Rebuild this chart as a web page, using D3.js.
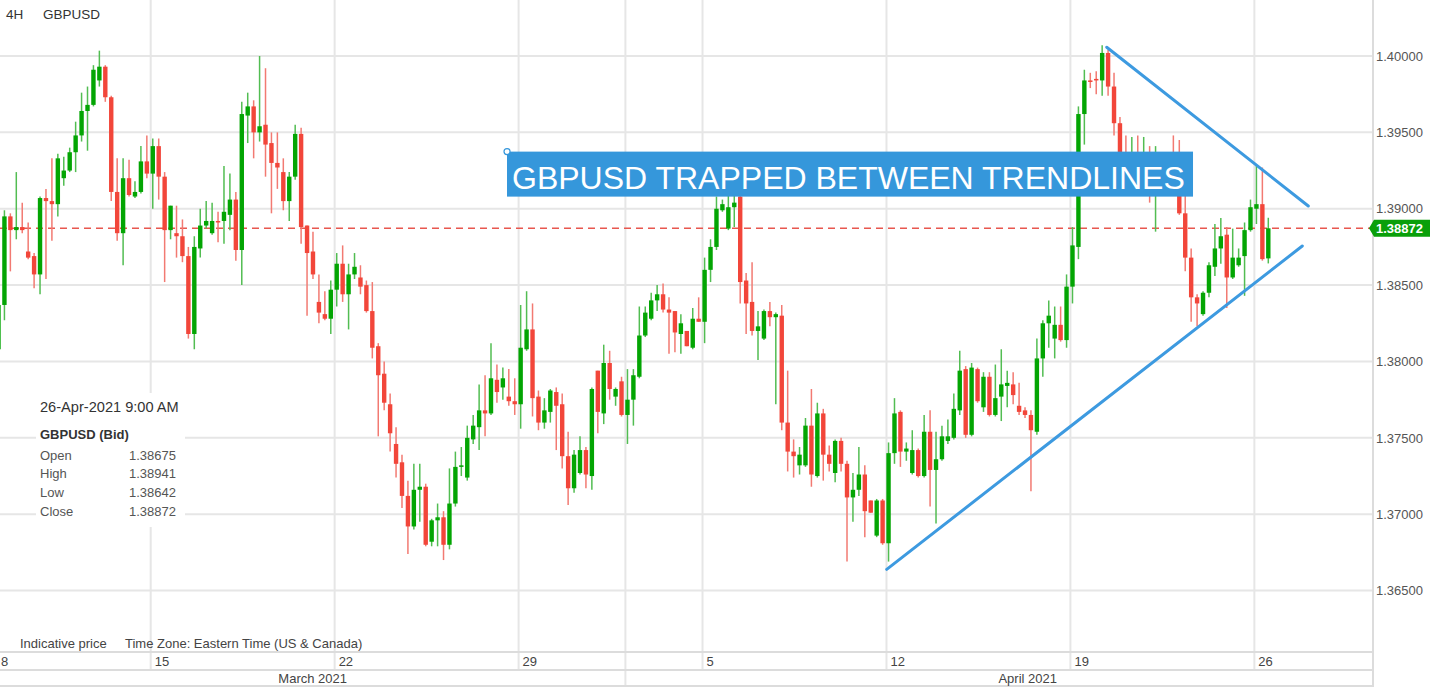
<!DOCTYPE html>
<html><head><meta charset="utf-8">
<script src="https://cdn.jsdelivr.net/npm/d3@7"></script>
<style>
html,body{margin:0;padding:0;background:#fff;overflow:hidden}
svg{display:block;font-family:"Liberation Sans",Arial,Helvetica,sans-serif}
</style></head><body>
<svg id="c" width="1430" height="687"></svg>
<script>
// ---- DATA (4H GBPUSD candles) ----
const opens = [
 1.3808,1.3837,1.3895,1.3886,1.3888,1.3872,1.3869,1.3857,1.3907,1.3905,1.3903,1.3920,1.3925,1.3937,1.3948,1.3964,1.3968,1.3984,1.3993,1.3973,1.3911,1.3884,1.3920,1.3908,1.3911,1.3931,
 1.3923,1.3941,1.3921,1.3886,1.3884,1.3882,1.3869,1.3818,1.3874,1.3889,1.3884,1.3892,1.3892,1.3896,1.3906,1.3873,1.3961,1.3967,1.3950,1.3955,1.3943,1.3930,1.3924,1.3905,1.3921,1.3949,1.3889,1.3872,1.3839,1.3831,1.3828,
 1.3847,1.3864,1.3844,1.3857,1.3855,1.3850,1.3833,1.3810,1.3792,1.3772,1.3746,1.3734,1.3712,1.3692,1.3716,1.3718,1.3682,1.3696,1.3698,1.3680,1.3707,1.3731,1.3724,1.3749,1.3757,1.3768,1.3766,1.3788,1.3783,1.3777,1.3774,
 1.3772,1.3808,1.3821,1.3777,1.3760,1.3767,1.3780,1.3772,1.3738,1.3717,1.3727,1.3742,1.3725,1.3794,1.3766,1.3799,1.3777,1.3787,1.3765,1.3775,1.3790,1.3817,1.3828,1.3840,1.3844,1.3834,1.3833,1.3818,1.3820,1.3809,1.3828,
 1.3826,1.3860,1.3875,1.3899,1.3887,1.3901,1.3908,1.3853,1.3839,1.3820,1.3815,1.3833,1.3829,1.3830,1.3760,1.3741,1.3732,1.3732,1.3758,1.3725,1.3766,1.3739,1.3727,1.3748,1.3733,1.3711,1.3716,1.3726,1.3709,1.3686,1.3709,
 1.3681,1.3740,1.3767,1.3741,1.3727,1.3742,1.3725,1.3754,1.3729,1.3736,1.3748,1.3750,1.3768,1.3795,1.3752,1.3795,1.3770,1.3790,1.3765,1.3777,1.3784,1.3785,1.3771,1.3768,1.3765,1.3754,1.3802,1.3825,1.3815,1.3824,1.3814,
 1.3849,1.3875,1.3962,1.3984,1.3985,1.3984,1.4002,1.3980,1.3956,1.3933,1.3922,1.3932,1.3924,1.3930,1.3916,1.3925,1.3920,1.3924,1.3919,1.3897,1.3868,1.3842,1.3831,1.3845,1.3862,1.3874,1.3883,1.3855,1.3863,1.3869,1.3886,
 1.3900,1.3903,1.38675
];
const highs = [
 1.3840,1.3899,1.3897,1.3924,1.3904,1.3891,1.3871,1.3908,1.3913,1.3933,1.3936,1.3934,1.3940,1.3957,1.3976,1.3980,1.3994,1.40035,1.3994,1.3974,1.3933,1.3933,1.3932,1.3918,1.3941,1.3948,
 1.3946,1.3946,1.3924,1.3902,1.3902,1.3893,1.3875,1.3882,1.3900,1.3905,1.3904,1.3898,1.3928,1.3923,1.3911,1.3970,1.3976,1.3971,1.4000,1.3992,1.3950,1.3950,1.3933,1.3924,1.3955,1.3953,1.3889,1.3885,1.3857,1.3846,1.3853,
 1.3871,1.3876,1.3864,1.3871,1.3863,1.3853,1.3852,1.3812,1.3800,1.3779,1.3757,1.3739,1.3722,1.3733,1.3733,1.3720,1.3697,1.3707,1.3702,1.3730,1.3741,1.3744,1.3758,1.3765,1.3785,1.3791,1.3812,1.3798,1.3796,1.3795,1.3789,
 1.3837,1.3846,1.3838,1.3781,1.3776,1.3782,1.3783,1.3779,1.3754,1.3742,1.3751,1.3744,1.3783,1.3794,1.3811,1.3807,1.3783,1.3790,1.3795,1.3795,1.3836,1.3836,1.3845,1.3850,1.3851,1.3842,1.3833,1.3831,1.3820,1.3835,1.3842,
 1.3868,1.3880,1.3908,1.3906,1.3910,1.3912,1.3912,1.3858,1.3865,1.3833,1.3834,1.3839,1.3832,1.3837,1.3794,1.3749,1.3744,1.3763,1.3782,1.3773,1.3769,1.3745,1.3749,1.3750,1.3735,1.3727,1.3744,1.3732,1.3709,1.3710,1.3710,
 1.3747,1.3776,1.3768,1.3747,1.3755,1.3743,1.3765,1.3768,1.3754,1.3758,1.3762,1.3779,1.3807,1.3797,1.3799,1.3796,1.3793,1.3793,1.3798,1.3808,1.3794,1.3793,1.3786,1.3770,1.3768,1.3815,1.3827,1.3840,1.3836,1.3836,1.3857,
 1.3888,1.3967,1.3991,1.3989,1.3990,1.4007,1.4004,1.3989,1.3960,1.3948,1.3947,1.3948,1.3947,1.3941,1.3941,1.3932,1.3929,1.3948,1.3945,1.3912,1.3874,1.3844,1.3846,1.3865,1.3890,1.3894,1.3888,1.3887,1.3874,1.3891,1.3906,
 1.3928,1.3927,1.38941
];
const lows = [
 1.3804,1.3827,1.3859,1.3880,1.3884,1.3867,1.3848,1.3844,1.3854,1.3879,1.3895,1.3915,1.3924,1.3924,1.3944,1.3938,1.3967,1.3980,1.3970,1.3905,1.3879,1.3863,1.3908,1.3907,1.3910,1.3920,
 1.3900,1.3906,1.3852,1.3880,1.3868,1.3865,1.3815,1.3808,1.3868,1.3887,1.3883,1.3878,1.3877,1.3886,1.3866,1.3850,1.3943,1.3933,1.3944,1.3921,1.3897,1.3913,1.3899,1.3892,1.3919,1.3877,1.3830,1.3854,1.3825,1.3827,1.3818,
 1.3836,1.3839,1.3821,1.3854,1.3844,1.3832,1.3802,1.3751,1.3768,1.3741,1.3724,1.3704,1.3674,1.3690,1.3695,1.3679,1.3679,1.3679,1.3670,1.3677,1.3705,1.3725,1.3722,1.3746,1.3742,1.3751,1.3765,1.3773,1.3775,1.3771,1.3765,
 1.3756,1.3807,1.3764,1.3755,1.3756,1.3760,1.3742,1.3730,1.3706,1.3714,1.3726,1.3717,1.3716,1.3753,1.3759,1.3775,1.3771,1.3764,1.3746,1.3758,1.3789,1.3816,1.3827,1.3833,1.3832,1.3805,1.3806,1.3805,1.3810,1.3808,1.3826,
 1.3812,1.3852,1.3873,1.3898,1.3886,1.3888,1.3838,1.3818,1.3817,1.3801,1.3814,1.3823,1.3772,1.3755,1.3728,1.3724,1.3726,1.3731,1.3718,1.3724,1.3722,1.3728,1.3721,1.3728,1.3669,1.3695,1.3712,1.3685,1.3701,1.3685,1.3680,
 1.3669,1.3733,1.3731,1.3735,1.3726,1.3724,1.3724,1.3705,1.3694,1.3735,1.3746,1.3749,1.3765,1.3750,1.3751,1.3773,1.3767,1.3764,1.3764,1.3761,1.3770,1.3772,1.3765,1.3763,1.3715,1.3752,1.3790,1.3809,1.3802,1.3813,1.3809,
 1.3838,1.3867,1.3942,1.3979,1.3975,1.3974,1.3974,1.3948,1.3929,1.3922,1.3919,1.3920,1.3920,1.3904,1.3885,1.3916,1.3914,1.3911,1.3896,1.3859,1.3826,1.3823,1.3830,1.3842,1.3856,1.3864,1.3835,1.3854,1.3862,1.3843,1.3885,
 1.3890,1.3866,1.38642
];
const closes = [
 1.3837,1.3895,1.3886,1.3888,1.3886,1.3868,1.3857,1.3907,1.3905,1.3903,1.3933,1.3925,1.3937,1.3948,1.3964,1.3968,1.3991,1.3993,1.3973,1.3911,1.3884,1.3920,1.3909,1.3911,1.3931,1.3923,
 1.3941,1.3921,1.3886,1.3902,1.3882,1.3869,1.3818,1.3875,1.3889,1.3892,1.3892,1.3891,1.3898,1.3906,1.3873,1.3962,1.3967,1.3950,1.3954,1.3942,1.3930,1.3927,1.3905,1.3921,1.3949,1.3888,1.3871,1.3857,1.3832,1.3828,1.3847,
 1.3864,1.3844,1.3857,1.3862,1.3849,1.3833,1.3809,1.3791,1.3773,1.3753,1.3733,1.3712,1.3692,1.3716,1.3718,1.3680,1.3696,1.3698,1.3680,1.3707,1.3731,1.3732,1.3750,1.3758,1.3768,1.3766,1.3789,1.3780,1.3789,1.3774,1.3772,
 1.3809,1.3821,1.3776,1.3760,1.3768,1.3781,1.3771,1.3738,1.3717,1.3739,1.3742,1.3726,1.3782,1.3767,1.3799,1.3782,1.3782,1.3765,1.3775,1.3791,1.3817,1.3832,1.3840,1.3844,1.3834,1.3832,1.3819,1.3825,1.3810,1.3828,1.3826,
 1.3860,1.3875,1.3900,1.3903,1.3901,1.3904,1.3852,1.3838,1.3820,1.3823,1.3833,1.3829,1.3831,1.3760,1.3741,1.3738,1.3739,1.3758,1.3726,1.3766,1.3739,1.3733,1.3748,1.3733,1.3711,1.3716,1.3726,1.3702,1.3701,1.3709,1.3681,
 1.3740,1.3766,1.3741,1.3743,1.3742,1.3725,1.3754,1.3729,1.3736,1.3751,1.3751,1.3769,1.3794,1.3752,1.3796,1.3774,1.3790,1.3765,1.3776,1.3785,1.3786,1.3778,1.3767,1.3765,1.3755,1.3802,1.3825,1.3830,1.3824,1.3814,1.3849,
 1.3876,1.3962,1.3984,1.3983,1.3984,1.4002,1.3980,1.3956,1.3932,1.3925,1.3932,1.3924,1.3930,1.3916,1.3925,1.3920,1.3924,1.3919,1.3897,1.3868,1.3842,1.3838,1.3845,1.3863,1.3874,1.3882,1.3855,1.3868,1.3868,1.3886,1.3901,
 1.3903,1.3867,1.38872
];
const weekLabels   = ["8","15","22","29","5","12","19","26"];
const weekStartIdx = [-5, 26, 57, 88, 119, 150, 181, 212];
const monthLabels  = ["March 2021","April 2021"];
const monthBoundaryIdx = 106;          // first candle of 1-Apr
const priceTicks = [1.365,1.370,1.375,1.380,1.385,1.390,1.395,1.400];
const lastPrice = 1.38872;
const timeframe = "4H", symbol = "GBPUSD";
const infoTime = "26-Apr-2021 9:00 AM";
const upperTrend = [{i:186.77,p:1.40057},{i:220.74,p:1.39018}];
const lowerTrend = [{i:149.69,p:1.36639},{i:219.73,p:1.38756}];
const annotation = {i:85.7, p:1.39374, text:"GBPUSD TRAPPED BETWEEN TRENDLINES"};

// ---- LAYOUT ----
const W = 1430, H = 687, plotR = 1372, plotB = 652;
const n = Math.min(opens.length, highs.length, lows.length, closes.length);
const candles = d3.range(n).map(i => ({i, o:opens[i], h:highs[i], l:lows[i], c:closes[i]}));

const x = d3.scaleLinear().domain([0, 214]).range([-1.5, 1268.3]);
const y = d3.scaleLinear().domain([1.365, 1.400]).range([590.6, 56]);

const svg = d3.select("#c");
const GRID = "#e6e6e6";

// horizontal grid
svg.append("g").selectAll("line").data(priceTicks).join("line")
  .attr("x1",0).attr("x2",plotR).attr("y1",d=>y(d)).attr("y2",d=>y(d))
  .attr("stroke",GRID).attr("stroke-width",2);

// vertical week grid
const gx = i => x(i - 0.35);
svg.append("g").selectAll("line").data(weekStartIdx.filter(d=>gx(d)>0)).join("line")
  .attr("x1",d=>gx(d)).attr("x2",d=>gx(d)).attr("y1",0).attr("y2",670)
  .attr("stroke",GRID).attr("stroke-width",2);
// month boundary
const mb = gx(monthBoundaryIdx);
svg.append("line").attr("x1",mb).attr("x2",mb).attr("y1",0).attr("y2",H)
  .attr("stroke",GRID).attr("stroke-width",2);

// bottom rows
[652,670,686].forEach(yy=>svg.append("line").attr("x1",0).attr("x2",plotR).attr("y1",yy).attr("y2",yy)
  .attr("stroke","#dcdcdc").attr("stroke-width",2));
svg.append("line").attr("x1",plotR+1).attr("x2",plotR+1).attr("y1",0).attr("y2",H)
  .attr("stroke","#dcdcdc").attr("stroke-width",2);

// last price dashed line
svg.append("line").attr("x1",0).attr("x2",plotR).attr("y1",y(lastPrice)).attr("y2",y(lastPrice))
  .attr("stroke","#e8574f").attr("stroke-width",1.4).attr("stroke-dasharray","7,5");

// info box
const ib = svg.append("g");
ib.append("rect").attr("x",36).attr("y",393).attr("width",149).attr("height",134).attr("fill","#fff");
ib.append("text").attr("x",40).attr("y",407).attr("dy","0.35em").attr("font-size",14.6).attr("fill","#333").text(infoTime);
ib.append("text").attr("x",40).attr("y",434).attr("dy","0.35em").attr("font-size",13).attr("font-weight","bold").attr("fill","#333").text(symbol+" (Bid)");
const last = candles[n-1];
const rows = [["Open",last.o],["High",last.h],["Low",last.l],["Close",last.c]];
rows.forEach((r,k)=>{
  ib.append("text").attr("x",40).attr("y",455+k*18.7).attr("dy","0.35em").attr("font-size",13).attr("fill","#555").text(r[0]);
  ib.append("text").attr("x",176).attr("y",455+k*18.7).attr("dy","0.35em").attr("font-size",13).attr("fill","#555").attr("text-anchor","end").text(d3.format(".5f")(r[1]));
});

// candles
const UP = "#03a503", UPW = "#52bd52", DN = "#f2463a", DNW = "#f27a72";
const cg = svg.append("g");
cg.selectAll("line").data(candles).join("line")
  .attr("x1",d=>x(d.i)).attr("x2",d=>x(d.i)).attr("y1",d=>y(d.h)).attr("y2",d=>y(d.l))
  .attr("stroke",d=>d.c>=d.o?UPW:DNW).attr("stroke-width",1.5);
const bw = 4.4;
cg.selectAll("rect").data(candles).join("rect")
  .attr("x",d=>x(d.i)-bw/2).attr("width",bw)
  .attr("y",d=>Math.min(y(d.o),y(d.c)))
  .attr("height",d=>Math.max(1.2,Math.abs(y(d.o)-y(d.c))))
  .attr("fill",d=>d.c>=d.o?UP:DN);

// trendlines
const TL = "#3d9ae0";
[upperTrend, lowerTrend].forEach(t=>{
  svg.append("line").attr("x1",x(t[0].i)).attr("y1",y(t[0].p)).attr("x2",x(t[1].i)).attr("y2",y(t[1].p))
    .attr("stroke",TL).attr("stroke-width",3).attr("stroke-linecap","round");
});

// annotation
const ax = x(annotation.i), ay = y(annotation.p);
const ag = svg.append("g");
ag.append("rect").attr("x",ax).attr("y",ay).attr("width",686).attr("height",45).attr("fill","#3597db");
ag.append("text").attr("x",ax+5).attr("y",ay+37.5).attr("font-size",32).attr("fill","#fff").text(annotation.text);
ag.append("circle").attr("cx",ax).attr("cy",ay).attr("r",3).attr("fill","#fff").attr("stroke","#3597db").attr("stroke-width",1.2);

// right price axis
const yAxis = d3.axisRight(y).tickValues(priceTicks).tickFormat(d3.format(".5f")).tickSize(0).tickPadding(4);
const ya = svg.append("g").attr("transform",`translate(${plotR},0)`).call(yAxis);
ya.select(".domain").remove();
ya.selectAll("text").attr("font-size",13).attr("fill","#555").attr("font-family",null);

// last price label
const yl = y(lastPrice);
svg.append("path").attr("d",`M${plotR-3},${yl} L${plotR+2},${yl-8.5} L${W},${yl-8.5} L${W},${yl+8.5} L${plotR+2},${yl+8.5} Z`).attr("fill","#0a9f0a");
svg.append("text").attr("x",plotR+4).attr("y",yl).attr("dy","0.36em").attr("font-size",13).attr("font-weight","bold").attr("fill","#fff").text(d3.format(".5f")(lastPrice));

// bottom x labels
svg.append("g").selectAll("text").data(weekStartIdx).join("text")
  .attr("x",d=>Math.max(1,gx(d)+4)).attr("y",661).attr("dy","0.35em")
  .attr("font-size",13).attr("fill","#444").text((d,k)=>weekLabels[k]);
const monthCenters = [(0+mb)/2, (mb+W)/2];
svg.append("g").selectAll("text").data(monthLabels).join("text")
  .attr("x",(d,k)=>monthCenters[k]).attr("y",678).attr("dy","0.35em").attr("text-anchor","middle")
  .attr("font-size",13).attr("fill","#444").text(d=>d);

svg.append("text").attr("x",20).attr("y",643).attr("dy","0.35em").attr("font-size",13).attr("fill","#444").text("Indicative price");
svg.append("text").attr("x",125).attr("y",643).attr("dy","0.35em").attr("font-size",13).attr("fill","#444").text("Time Zone: Eastern Time (US & Canada)");

// top-left title
svg.append("text").attr("x",6).attr("y",14).attr("dy","0.35em").attr("font-size",13.5).attr("fill","#333").text(timeframe);
svg.append("text").attr("x",43).attr("y",14).attr("dy","0.35em").attr("font-size",13.5).attr("fill","#333").text(symbol);
</script>
</body></html>
